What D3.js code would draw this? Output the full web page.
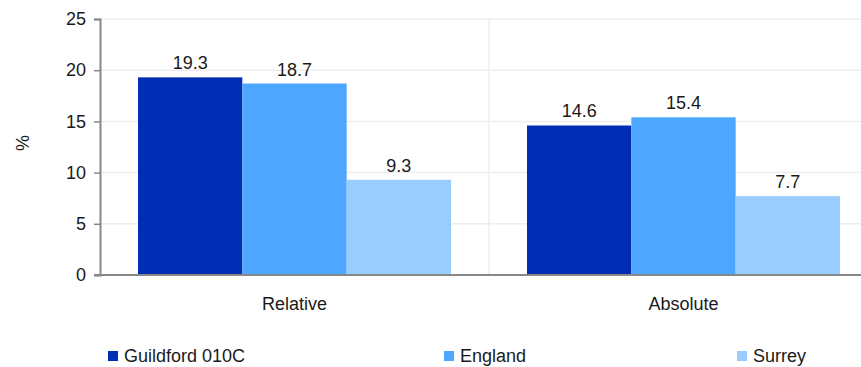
<!DOCTYPE html>
<html><head><meta charset="utf-8">
<script src="https://cdn.jsdelivr.net/npm/d3@7"></script>
<style>body{margin:0;background:#fff}svg{display:block}text{font-family:"Liberation Sans",Arial,sans-serif;fill:#1a1a1a}</style>
</head><body>
<svg id="c" width="861" height="367"></svg>
<script>
const categories = ["Relative", "Absolute"];
const seriesNames = ["Guildford 010C", "England", "Surrey"];
const guildford = [19.3, 14.6];
const england = [18.7, 15.4];
const surrey = [9.3, 7.7];
const yTicks = [0, 5, 10, 15, 20, 25];
const colors = ["#002db3", "#4da6ff", "#99ccff"];
const seriesValues = [guildford, england, surrey];
const fs = 18;

const svg = d3.select("#c");
const mLeft = 100, mTop = 19, mBottom = 275, bandW = 389;
const x = d3.scaleBand().domain(categories).range([mLeft, mLeft + bandW * categories.length]).paddingInner(0).paddingOuter(0);
const y = d3.scaleLinear().domain([0, 25]).range([mBottom, mTop]);
const inner = d3.scaleBand().domain(seriesNames).range([38, bandW - 38]);

// grid
svg.append("g").selectAll("line").data(yTicks.filter(d => d > 0)).join("line")
  .attr("x1", mLeft).attr("x2", 861).attr("y1", d => y(d)).attr("y2", d => y(d))
  .attr("stroke", "#eeeeee").attr("stroke-width", 1.5);
svg.append("g").selectAll("line").data(categories.slice(1)).join("line")
  .attr("x1", d => x(d)).attr("x2", d => x(d)).attr("y1", mTop).attr("y2", mBottom)
  .attr("stroke", "#eeeeee").attr("stroke-width", 1.5);

// bars
categories.forEach((c, i) => {
  seriesNames.forEach((s, j) => {
    const v = seriesValues[j][i];
    svg.append("rect")
      .attr("x", x(c) + inner(s)).attr("y", y(v))
      .attr("width", inner.bandwidth()).attr("height", y(0) - y(v))
      .attr("fill", colors[j]);
    svg.append("text")
      .attr("x", x(c) + inner(s) + inner.bandwidth() / 2).attr("y", y(v) - 8)
      .attr("text-anchor", "middle").attr("font-size", fs)
      .text(v.toFixed(1));
  });
});

// y axis
const ya = svg.append("g").attr("transform", `translate(${mLeft},0)`)
  .call(d3.axisLeft(y).tickValues(yTicks).tickSize(6).tickPadding(8));
ya.select(".domain").attr("stroke", "#888").attr("stroke-width", 2);
ya.selectAll(".tick line").attr("stroke", "#888").attr("stroke-width", 1.5);
ya.selectAll(".tick text").attr("font-size", fs).attr("fill", "#1a1a1a")
  .style("font-family", '"Liberation Sans",Arial,sans-serif');

// x baseline
svg.append("line").attr("x1", mLeft - 6).attr("x2", 861).attr("y1", mBottom).attr("y2", mBottom)
  .attr("stroke", "#888").attr("stroke-width", 2);

// category labels
svg.append("g").selectAll("text").data(categories).join("text")
  .attr("x", d => x(d) + bandW / 2).attr("y", 310)
  .attr("text-anchor", "middle").attr("font-size", fs).text(d => d);

// y title
svg.append("text").attr("transform", "translate(29,143) rotate(-90)")
  .attr("text-anchor", "middle").attr("font-size", fs).text("%");

// legend
const legX = [108, 444, 737];
seriesNames.forEach((s, j) => {
  svg.append("rect").attr("x", legX[j]).attr("y", 351).attr("width", 10).attr("height", 10).attr("fill", colors[j]);
  svg.append("text").attr("x", legX[j] + 16).attr("y", 362).attr("font-size", fs).text(s);
});
</script>
</body></html>
